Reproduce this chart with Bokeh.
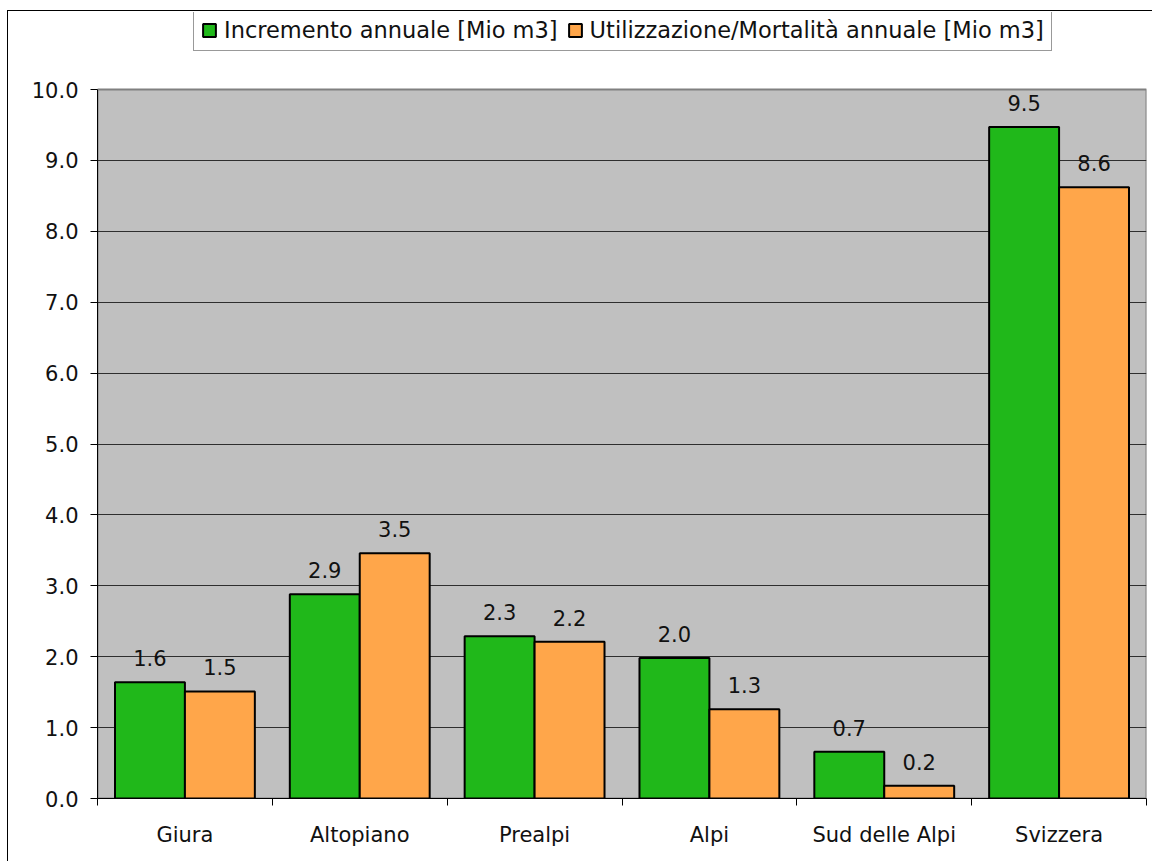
from bokeh.plotting import figure
from bokeh.models import (Range1d, LinearAxis, FixedTicker,
                          Legend, LegendItem, ColumnDataSource, NumeralTickFormatter)
from bokeh.transform import dodge
from bokeh.core.properties import value
from bokeh.embed import file_html
from bokeh.resources import INLINE

categories = ["Giura", "Altopiano", "Prealpi", "Alpi", "Sud delle Alpi", "Svizzera"]
incremento = [1.64, 2.88, 2.29, 1.98, 0.66, 9.47]
utilizzazione = [1.51, 3.46, 2.21, 1.26, 0.18, 8.62]
series_names = ["Incremento annuale [Mio m3]", "Utilizzazione/Mortalità annuale [Mio m3]"]
y_ticks = [0, 1, 2, 3, 4, 5, 6, 7, 8, 9, 10]
y_max = 10

GREEN = "#20B81A"
ORANGE = "#FFA64A"
FONT = "DejaVu Sans"
FS = "21px"

n = len(categories)
centers = [i + 0.5 for i in range(n)]
src = ColumnDataSource(dict(
    pos=centers,
    g=incremento,
    o=utilizzazione,
    g_lbl=["%.1f" % v for v in incremento],
    o_lbl=["%.1f" % v for v in utilizzazione],
))

# frame extends above the plot area to host the legend; plot area is 0..10
top_extra = 77 / 70.9
p = figure(width=1145, height=851, x_range=Range1d(0, n),
           y_range=Range1d(0, y_max + top_extra), output_backend="svg", toolbar_location=None,
           x_axis_location=None, min_border_left=89, min_border_top=1,
           min_border_right=7, min_border_bottom=64)
p.margin = (10, 0, 0, 7)
p.styles = {"border-left": "1px solid #000", "border-top": "1px solid #000"}
p.background_fill_color = "white"
p.border_fill_color = "white"
p.outline_line_color = None

# plot area background
bg = p.quad(left=[0], right=[n], bottom=[0], top=[y_max], fill_color="#C0C0C0",
            line_color="#808080", line_width=2, level="image")

# y axis
ya = p.yaxis[0]
ya.bounds = (0, y_max)
ya.ticker = FixedTicker(ticks=y_ticks)
ya.formatter = NumeralTickFormatter(format="0.0")
ya.axis_line_color = "black"
ya.axis_line_width = 1
ya.major_tick_line_color = "black"
ya.major_tick_out = 7
ya.major_tick_in = 0
ya.minor_tick_line_color = None
ya.major_label_standoff = 12
ya.major_label_text_font = FONT
ya.major_label_text_font_size = FS
ya.major_label_text_color = "#111111"
p.ygrid.ticker = FixedTicker(ticks=y_ticks[1:-1])
p.ygrid.grid_line_color = "#2e2e2e"
p.ygrid.grid_line_width = 1
p.xgrid.grid_line_color = None

# x tick axis at category boundaries
bounds = list(range(n + 1))
tick_axis = LinearAxis(ticker=FixedTicker(ticks=bounds),
                       major_label_overrides={b: "" for b in bounds},
                       major_label_text_font_size="1px", major_label_standoff=0,
                       major_tick_out=7, major_tick_in=0, minor_tick_line_color=None,
                       axis_line_color="black", major_tick_line_color="black")
p.add_layout(tick_axis, "below")

cat_axis = LinearAxis(ticker=FixedTicker(ticks=centers),
                      major_label_overrides={c: name for c, name in zip(centers, categories)},
                      axis_line_color=None, major_tick_line_color=None, minor_tick_line_color=None,
                      major_label_standoff=11, major_label_text_font=FONT,
                      major_label_text_font_size=FS, major_label_text_color="#111111")
p.add_layout(cat_axis, "below")

r1 = p.vbar(x=dodge("pos", -0.2), top="g", width=0.4, source=src,
            fill_color=GREEN, line_color="black", line_width=2)
r2 = p.vbar(x=dodge("pos", 0.2), top="o", width=0.4, source=src,
            fill_color=ORANGE, line_color="black", line_width=2)

for col, lbl, off in [("g", "g_lbl", -0.2), ("o", "o_lbl", 0.2)]:
    p.text(x=dodge("pos", off), y=col, text=lbl, source=src,
           text_align="center", text_baseline="alphabetic", y_offset=-24,
           text_font=value(FONT), text_font_size=FS, text_color="#111111")

legend = Legend(items=[LegendItem(label=series_names[0], renderers=[r1]),
                       LegendItem(label=series_names[1], renderers=[r2])],
                orientation="horizontal", location=(96, 747),
                border_line_color="#333333", border_line_width=1,
                background_fill_color="white", background_fill_alpha=1,
                glyph_width=16, glyph_height=16, label_standoff=7, spacing=9,
                padding=7, margin=0, label_text_font=FONT, label_text_font_size="22.5px",
                label_text_color="#111111", label_height=20)
p.add_layout(legend, "center")

open("out.html", "w").write(file_html(p, INLINE))
